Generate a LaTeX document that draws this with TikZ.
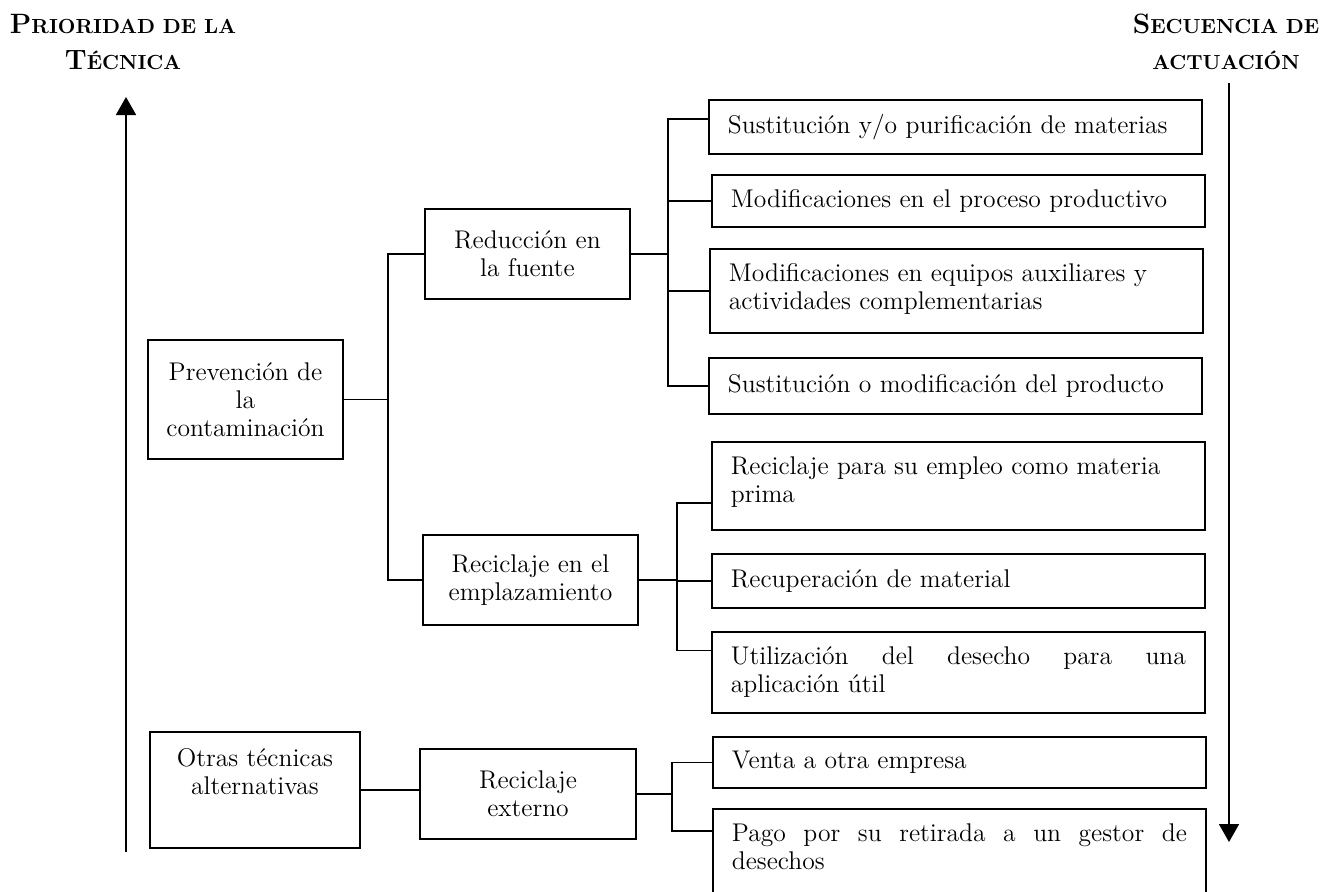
\documentclass[tikz,border=0pt]{standalone}
\usepackage{fontspec}
\usepackage{tikz}
\usetikzlibrary{arrows.meta}
\tikzset{caja/.style={draw,line width=0.9pt,align=center,inner sep=0pt},
 hoja/.style={draw,line width=0.9pt,anchor=north west,inner xsep=9.5pt,inner ysep=0pt},
 rama/.style={line width=0.9pt},
 flecha/.style={line width=0.9pt,-{Triangle[width=10pt,length=9pt]}},
 titulo/.style={align=center,font=\bfseries\fontsize{10.2}{18}\selectfont},
 }
\newcommand{\grande}[1]{{\fontsize{14}{18}\selectfont #1}}
\newcommand{\una}[2]{\parbox[c][#1][c]{227.5pt}{#2}}
\newcommand{\dos}[2]{\parbox[t][#1][t]{227.5pt}{\rule{0pt}{16.5pt}#2}}

\begin{document}
\begin{tikzpicture}[x=0.5pt,y=-0.5pt,font=\fontsize{12.8}{14}\selectfont]
    \useasboundingbox (0,0) rectangle (1328,891);
    \node[titulo] (prio) at (123,42) {\grande{P}RIORIDAD DE LA\\\grande{T}ÉCNICA};
    \node[titulo] (secu) at (1226,42) {\grande{S}ECUENCIA DE\\ACTUACIÓN};
    \coordinate (pie) at (126,852);
    \coordinate (cima) at (126,97);
    \coordinate (alto) at (1229,83);
    \coordinate (bajo) at (1229,842);
    \draw[flecha] (pie) -- (cima);
    \draw[flecha] (alto) -- (bajo);

    \node[caja,minimum width=97.5pt,minimum height=59.5pt] (prev) at (245.5,399.5) {Prevención de\\la\\contaminación};
    \node[caja,minimum width=102.5pt,minimum height=45pt] (red) at (527.5,254) {Reducción en\\la fuente};
    \node[caja,minimum width=107.5pt,minimum height=45pt] (rec) at (530.5,580) {Reciclaje en el\\emplazamiento};
    \node[caja,anchor=north west] (otras) at (149,731) {\parbox[t][58pt][t]{105pt}{\centering\rule{0pt}{17.5pt}Otras técnicas\\alternativas}};
    \node[caja,minimum width=108pt,minimum height=45pt] (rext) at (528,794) {Reciclaje\\externo};

    \node[hoja] (s1) at (708,99) {\una{27pt}{Sustitución y/o purificación de materias}};
    \node[hoja] (s2) at (711,174) {\una{26pt}{Modificaciones en el proceso productivo}};
    \node[hoja] (s3) at (709,248) {\dos{42pt}{Modificaciones en equipos auxiliares y\\actividades complementarias}};
    \node[hoja] (s4) at (708,357) {\una{28pt}{Sustitución o modificación del producto}};
    \node[hoja] (s5) at (711,441) {\dos{44pt}{Reciclaje para su empleo como materia\\prima}};
    \node[hoja] (s6) at (711,553) {\una{27pt}{Recuperación de material}};
    \node[hoja] (s7) at (711,631) {\dos{40.5pt}{Utilización del desecho para una\linebreak aplicación útil}};
    \node[hoja] (s8) at (712,736) {\una{25.5pt}{Venta a otra empresa}};
    \node[hoja] (s9) at (712,808) {\dos{50pt}{Pago por su retirada a un gestor de\linebreak desechos}};

    \coordinate (t1) at (388,0);
    \coordinate (t2) at (668,0);
    \coordinate (t3) at (677,0);
    \coordinate (t4) at (672,0);
    \coordinate (b1) at ([yshift=4pt]s1.west);
    \coordinate (b5) at ([yshift=-8.5pt]s5.west);
    \coordinate (b7) at ([yshift=11pt]s7.west);
    \coordinate (b9) at ([yshift=-11.5pt]s9.north west);

    \draw[rama] (prev.east) -- (prev.east -| t1);
    \draw[rama] (red.west) -- (red.west -| t1) -- (rec.west -| t1) -- (rec.west);
    \draw[rama] (red.east) -- (red.east -| t2);
    \draw[rama] (b1) -- (b1 -| t2) -- (s4.west -| t2) -- (s4.west);
    \foreach \n in {s2,s3}
        \draw[rama] (\n.west) -- (\n.west -| t2);
    \draw[rama] (rec.east) -- (rec.east -| t3);
    \draw[rama] (b5) -- (b5 -| t3) -- (b7 -| t3) -- (b7);
    \draw[rama] (s6.west) -- (s6.west -| t3);
    \draw[rama] (otras.east) -- (otras.east -| rext.west);
    \draw[rama] (rext.east) -- (rext.east -| t4);
    \draw[rama] (s8.west) -- (s8.west -| t4) -- (b9 -| t4) -- (b9);
\end{tikzpicture}
\end{document}
